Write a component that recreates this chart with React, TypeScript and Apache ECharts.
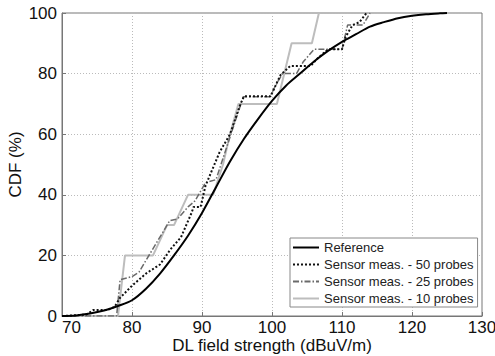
import React, { useEffect, useRef } from "react";
import * as echarts from "echarts";

const xTicks = [70, 80, 90, 100, 110, 120, 130];
const yTicks = [0, 20, 40, 60, 80, 100];

const seriesNames = [
  "Reference",
  "Sensor meas. - 50 probes",
  "Sensor meas. - 25 probes",
  "Sensor meas. - 10 probes",
];

const reference: [number, number][] = [
  [70, 0], [72, 0.2], [74, 0.8], [76, 1.8], [78, 3.3], [80, 5.2], [82, 9], [84, 14],
  [86, 20], [88, 26.5], [90, 34], [92, 42.5], [94, 51], [96, 58.5], [98, 65],
  [100, 71], [102, 76], [104, 80], [106, 84], [108, 87.5], [110, 90.5], [112, 93],
  [114, 95.5], [116, 97], [118, 98.3], [120, 99.1], [122, 99.6], [124, 99.9], [125, 100],
];

const probes50: [number, number][] = [
  [70, 0], [73.5, 0.5], [74.5, 2], [76.5, 2], [77.5, 3], [78.3, 6], [80, 10], [82, 14],
  [84, 17], [85.5, 22], [87, 26], [88.5, 34], [88.8, 36], [89.8, 36], [90.5, 43],
  [92.5, 54], [94, 60], [95.5, 70], [96, 72.5], [99.8, 72.5], [100.2, 74.5],
  [101.2, 79.5], [102.6, 82.5], [105.5, 82.5], [106.5, 85], [108, 88], [110, 88],
  [110.5, 92], [111.5, 96], [112.5, 97], [113.5, 100],
];

const probes25: [number, number][] = [
  [70, 0], [77.8, 0], [78.3, 12], [80, 13], [81, 14.5], [85.4, 31.5], [86.5, 32],
  [88, 36], [89, 38], [90.5, 44], [92, 45], [95.9, 72.4], [99.7, 72.4], [100.5, 76],
  [101.5, 80], [103.5, 80], [104.5, 84], [106, 88], [110, 88], [110.8, 96],
  [113, 96], [114, 100],
];

const probes10: [number, number][] = [
  [70, 0], [78, 0], [79, 20], [83, 20], [85, 30], [86, 30], [88, 40], [91.6, 40],
  [93, 50], [94, 60], [95.2, 70], [100.7, 70], [102.8, 90], [105.7, 90], [106.7, 100],
];

export default function App() {
  const ref = useRef<HTMLDivElement>(null);
  useEffect(() => {
    if (!ref.current) return;
    const chart = echarts.init(ref.current, undefined, { renderer: "svg" });
    const font = "Liberation Sans, Arial, sans-serif";
    chart.setOption({
      animation: false,
      backgroundColor: "#fff",
      grid: {
        left: 62,
        right: 13,
        top: 13,
        bottom: 40,
        containLabel: false,
        outerBoundsMode: "none",
        show: true,
        borderColor: "#777",
        borderWidth: 1,
        backgroundColor: "transparent",
      },
      xAxis: {
        type: "value",
        min: xTicks[0],
        max: xTicks[xTicks.length - 1],
        interval: 10,
        name: "DL field strength (dBuV/m)",
        nameLocation: "middle",
        nameGap: 20,
        nameMoveOverlap: false,
        nameTextStyle: { fontFamily: font, fontSize: 17, lineHeight: 18, color: "#111" },
        axisLine: { show: true, lineStyle: { color: "#777" } },
        axisTick: { show: true, inside: true, length: 4, lineStyle: { color: "#777" } },
        axisLabel: {
          fontFamily: font, fontSize: 17, lineHeight: 18, color: "#111", margin: 2,
          alignMinLabel: "left",
        },
        splitLine: { show: true, lineStyle: { color: "#bbb", type: [1, 2] } },
      },
      yAxis: {
        type: "value",
        min: yTicks[0],
        max: yTicks[yTicks.length - 1],
        interval: 20,
        name: "CDF (%)",
        nameLocation: "middle",
        nameGap: 38,
        nameMoveOverlap: false,
        nameTextStyle: { fontFamily: font, fontSize: 17, color: "#111" },
        axisLine: { show: true, lineStyle: { color: "#777" } },
        axisTick: { show: true, inside: true, length: 4, lineStyle: { color: "#777" } },
        axisLabel: { fontFamily: font, fontSize: 17, lineHeight: 18, color: "#111", margin: 5 },
        splitLine: { show: true, lineStyle: { color: "#bbb", type: [1, 2] } },
      },
      legend: {
        orient: "vertical",
        left: 290,
        top: 238,
        itemWidth: 26,
        itemHeight: 12,
        itemGap: 4,
        padding: [3, 4, 2, 2],
        backgroundColor: "#fff",
        borderColor: "#888",
        borderWidth: 1,
        borderRadius: 0,
        itemStyle: { color: "transparent", borderWidth: 0, opacity: 0 },
        textStyle: { fontFamily: font, fontSize: 13, color: "#222" },
        data: seriesNames,
      },
      series: [
        {
          name: seriesNames[3],
          type: "line",
          data: probes10,
          symbol: "none",
          lineStyle: { color: "#bdbdbd", width: 2 },
          itemStyle: { color: "#bdbdbd" },
          z: 1,
        },
        {
          name: seriesNames[2],
          type: "line",
          data: probes25,
          symbol: "none",
          lineStyle: { color: "#6a6a6a", width: 1.5, type: [6, 2, 1.5, 2] },
          itemStyle: { color: "#6a6a6a" },
          z: 2,
        },
        {
          name: seriesNames[1],
          type: "line",
          data: probes50,
          symbol: "none",
          lineStyle: { color: "#111", width: 2, type: [2, 2] },
          itemStyle: { color: "#111" },
          z: 3,
        },
        {
          name: seriesNames[0],
          type: "line",
          data: reference,
          symbol: "none",
          smooth: 0.3,
          lineStyle: { color: "#000", width: 2 },
          itemStyle: { color: "#000" },
          z: 4,
        },
      ],
    });
    return () => chart.dispose();
  }, []);
  return <div ref={ref} style={{ width: 495, height: 356, position: "absolute", left: 0, top: 0 }} />;
}
